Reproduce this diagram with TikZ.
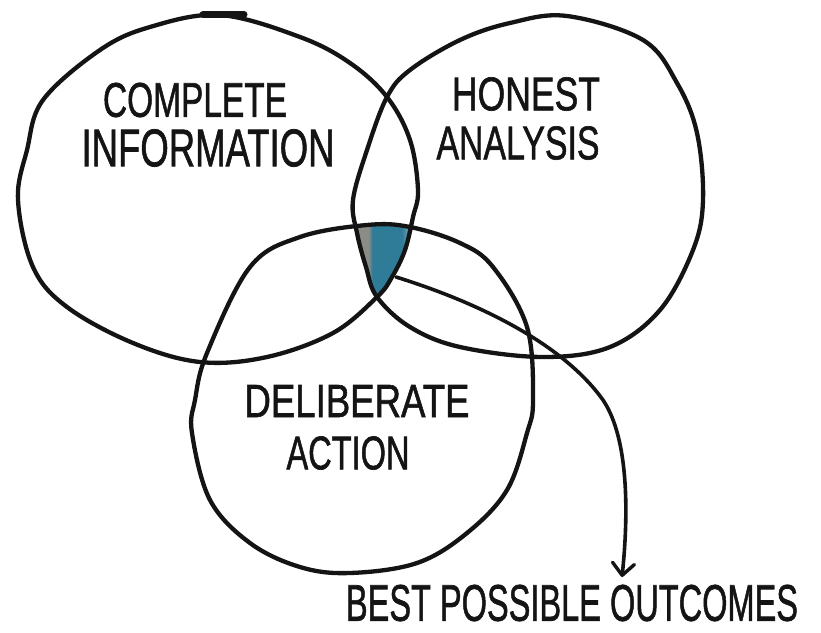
\documentclass[tikz,border=0pt]{standalone}
\usepackage{fontspec}
\setmainfont[FakeBold=1.4]{Liberation Sans}
\usetikzlibrary{arrows.meta}
\definecolor{ink}{HTML}{141414}
\definecolor{shgray}{HTML}{8A8C86}
\definecolor{shteal}{HTML}{2F7C98}
\definecolor{shlight}{HTML}{A9C4D2}
\pgfdeclarehorizontalshading{vennshade}{100bp}{color(0bp)=(shgray); color(25bp)=(shgray); color(38bp)=(shgray); color(41bp)=(shteal); color(64bp)=(shteal); color(75bp)=(shlight); color(100bp)=(shlight)}
\newcommand{\hw}[3]{\resizebox{#1}{#2}{#3}}
\begin{document}
\begin{tikzpicture}[x=1pt,y=-1pt,
  ring/.style={draw=ink, line width=4.3pt, line join=round},
  lbl/.style={inner sep=0pt, text=ink},
  pointer/.style={draw=ink, line width=3.6pt, line cap=round,
    -{Straight Barb[length=12pt,width=22pt,line width=3.4pt,round]}}]
\useasboundingbox (0,0) rectangle (821,632);
\fill[white] (0,0) rectangle (821,632);

% shaded triple intersection
\begin{scope}
\clip plot[smooth cycle, tension=0.6] coordinates {(220,15) (300,37) (350,63) (387,97) (410,140) (418,190) (413,217) (405,250) (392,277) (377,297) (333,333) (267,357) (200,362) (133,343) (67,307) (33,267) (18,200) (27,150) (43,100) (100,50) (150,27)};
\clip plot[smooth cycle, tension=0.6] coordinates {(567,16) (643,40) (677,83) (697,133) (703,200) (693,250) (660,310) (610,347) (543,357) (460,347) (410,327) (377,297) (366,267) (357,233) (353,200) (367,150) (387,97) (410,70) (460,40) (510,23)};
\clip plot[smooth cycle, tension=0.6] coordinates {(367,225) (410,227) (460,243) (493,267) (527,327) (533,400) (527,433) (507,490) (467,533) (417,563) (350,573) (300,567) (250,543) (210,500) (192,433) (195,400) (207,353) (250,267) (300,237)};
\shade[shading=vennshade] (352,220) rectangle (416,300);
\end{scope}

% circle 1: complete information
\draw[ring] plot[smooth cycle, tension=0.6] coordinates {(220,15) (300,37) (350,63) (387,97) (410,140) (418,190) (413,217) (405,250) (392,277) (377,297) (333,333) (267,357) (200,362) (133,343) (67,307) (33,267) (18,200) (27,150) (43,100) (100,50) (150,27)};
\draw[ink, line width=7pt, line cap=round] (203,14.5) -- (244,14.5);
% circle 2: honest analysis
\draw[ring] plot[smooth cycle, tension=0.6] coordinates {(567,16) (643,40) (677,83) (697,133) (703,200) (693,250) (660,310) (610,347) (543,357) (460,347) (410,327) (377,297) (366,267) (357,233) (353,200) (367,150) (387,97) (410,70) (460,40) (510,23)};
% circle 3: deliberate action
\draw[ring] plot[smooth cycle, tension=0.6] coordinates {(367,225) (410,227) (460,243) (493,267) (527,327) (533,400) (527,433) (507,490) (467,533) (417,563) (350,573) (300,567) (250,543) (210,500) (192,433) (195,400) (207,353) (250,267) (300,237)};

% labels
\node[lbl] (complete) at (195,100) {\hw{184pt}{34pt}{COMPLETE}};
\node[lbl] (information) at (208,148) {\hw{253pt}{37pt}{INFORMATION}};
\node[lbl] (honest) at (526,94) {\hw{148pt}{33pt}{HONEST}};
\node[lbl] (analysis) at (518,143) {\hw{163pt}{33pt}{ANALYSIS}};
\node[lbl] (deliberate) at (357,401) {\hw{225pt}{32pt}{DELIBERATE}};
\node[lbl] (action) at (348,453) {\hw{123pt}{33pt}{ACTION}};
\node[lbl] (best) at (572,603) {\hw{452pt}{36pt}{BEST POSSIBLE OUTCOMES}};

% pointer
\coordinate (arrowstart) at (396,277);
\coordinate (arrowtip) at (622,577);
\draw[pointer] (arrowstart) .. controls (470,300) and (560,340) .. (603,400)
  .. controls (630,440) and (628,520) .. (arrowtip);
\end{tikzpicture}
\end{document}
